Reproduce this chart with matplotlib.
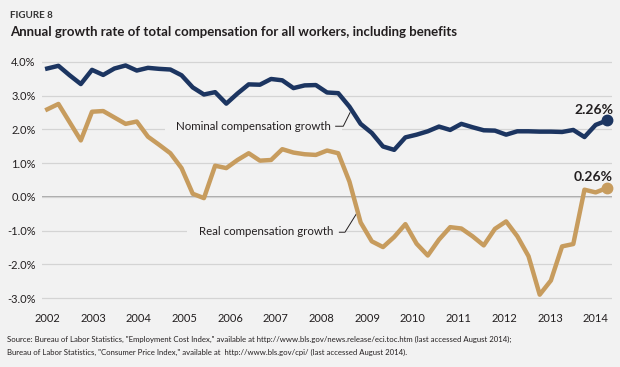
import numpy as np
import matplotlib
matplotlib.use('Agg')
import matplotlib.pyplot as plt
from matplotlib import font_manager

years = ['2002', '2003', '2004', '2005', '2006', '2007', '2008',
         '2009', '2010', '2011', '2012', '2013', '2014']

# quarterly growth, percent
nominal = [3.80, 3.88, 3.60, 3.34, 3.76, 3.61, 3.80, 3.89, 3.74, 3.82,
           3.79, 3.77, 3.60, 3.24, 3.03, 3.10, 2.76, 3.06, 3.33, 3.32,
           3.49, 3.45, 3.22, 3.30, 3.31, 3.09, 3.07, 2.67, 2.16, 1.89,
           1.49, 1.39, 1.76, 1.84, 1.94, 2.08, 1.98, 2.16, 2.06, 1.97,
           1.96, 1.84, 1.94, 1.94, 1.93, 1.93, 1.92, 1.98, 1.77, 2.13, 2.26]
real = [2.59, 2.75, 2.21, 1.67, 2.52, 2.54, 2.35, 2.16, 2.23, 1.78,
        1.54, 1.29, 0.85, 0.09, -0.04, 0.92, 0.85, 1.09, 1.29, 1.07,
        1.09, 1.41, 1.31, 1.26, 1.24, 1.37, 1.29, 0.45, -0.76, -1.32,
        -1.49, -1.19, -0.81, -1.39, -1.74, -1.27, -0.90, -0.94, -1.17, -1.44,
        -0.95, -0.73, -1.17, -1.76, -2.90, -2.48, -1.47, -1.40, 0.21, 0.13, 0.26]

bg = '#f2f2f2'
navy = '#1c3561'
tan = '#c79c5e'
ink = '#231f20'

names = set(f.name for f in font_manager.fontManager.ttflist)
narrow = 'Liberation Sans Narrow' if 'Liberation Sans Narrow' in names else 'Lato'
plt.rcParams['font.family'] = 'Lato'

fig = plt.figure(figsize=(6.2, 3.67), dpi=100, facecolor=bg)
ax = fig.add_axes([0.0677, 0.1695, 0.9194, 0.6806])
ax.set_facecolor(bg)

x = np.arange(len(nominal))
ax.plot(x, nominal, color=navy, lw=3.2, zorder=3)
ax.plot(x, real, color=tan, lw=3.2, zorder=3)
ax.plot(x[-1], nominal[-1], 'o', ms=7.5, color=navy, zorder=4, clip_on=False)
ax.plot(x[-1], real[-1], 'o', ms=7.5, color=tan, zorder=4, clip_on=False)

ax.annotate('%.2f%%' % nominal[-1], (x[-1], nominal[-1]), xytext=(4.5, 5),
            textcoords='offset points', ha='right', va='baseline',
            fontsize=10, fontweight='bold', color=ink)
ax.annotate('%.2f%%' % real[-1], (x[-1], real[-1]), xytext=(4.5, 5),
            textcoords='offset points', ha='right', va='baseline',
            fontsize=10, fontweight='bold', color=ink)

ax.set_xlim(-0.47, 50.46)
ax.set_ylim(-3.2, 4.2)
ax.set_xticks(np.linspace(0, len(nominal) - 2, len(years)))
ax.set_xticklabels(years)
yt = np.arange(-3, 5)
ax.set_yticks(yt)
ax.set_yticklabels(['%.1f%%' % v for v in yt])
ax.tick_params(length=0, labelsize=8, colors=ink)
ax.tick_params(axis='y', pad=4.5)
ax.tick_params(axis='x', pad=6)
ax.grid(axis='y', color='#d4d4d4', lw=0.9, zorder=1)
ax.axhline(0, color='#a8a8a8', lw=1.4, zorder=1.5)
for s in ax.spines.values():
    s.set_visible(False)

# series labels with leader lines
ax.text(25.35, 2.07, 'Nominal compensation growth', ha='right', va='center',
        fontsize=8.3, color=ink, zorder=2,
        bbox=dict(boxstyle='square,pad=1.0', fc=bg, ec='none'))
ax.plot([25.77, 26.45, 27.05], [2.09, 2.09, 2.49], color=ink, lw=0.7, zorder=2.5)
ax.text(25.53, -1.02, 'Real compensation growth', ha='right', va='center',
        fontsize=8.3, color=ink, zorder=2,
        bbox=dict(boxstyle='square,pad=1.0', fc=bg, ec='none'))
ax.plot([26.1, 26.6, 27.65], [-1.05, -1.05, -0.49], color=ink, lw=0.7, zorder=2.5)

fig.text(0.016, 0.958, 'FIGURE 8', fontsize=7, fontweight='bold', color='#333333', va='center')
fig.text(0.016, 0.913, 'Annual growth rate of total compensation for all workers, including benefits',
         fontsize=9.5, fontweight='bold', color=ink, va='center', family=narrow)
fig.text(0.0113, 0.0763, 'Source: Bureau of Labor Statistics, "Employment Cost Index," available at '
         'http://www.bls.gov/news.release/eci.toc.htm (last accessed August 2014);',
         fontsize=5.6, color=ink, va='center', family=narrow)
fig.text(0.0113, 0.0409, 'Bureau of Labor Statistics, "Consumer Price Index," available at  '
         'http://www.bls.gov/cpi/ (last accessed August 2014).',
         fontsize=5.6, color=ink, va='center', family=narrow)

fig.savefig('out.png', dpi=100, facecolor=bg)
